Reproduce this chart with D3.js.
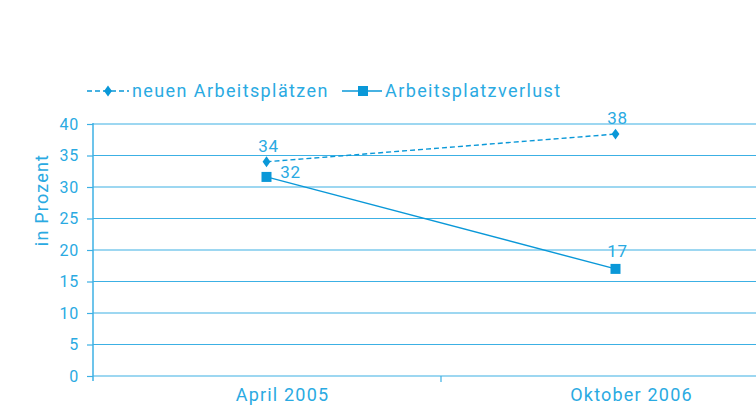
<!DOCTYPE html>
<html><head><meta charset="utf-8">
<script src="https://cdn.jsdelivr.net/npm/d3@7"></script>
<style>body{margin:0;background:#fff}svg{display:block}text{font-family:Roboto,"DejaVu Sans",sans-serif}</style>
</head><body><svg id="c" width="756" height="407"></svg>
<script>
const categories = ["April 2005", "Oktober 2006"];
const neueArbeitsplaetze = [34, 38.4];
const arbeitsplatzverlust = [31.6, 17];
const labelsNeue = ["34", "38"];
const labelsVerlust = ["32", "17"];
const yTicks = [0,5,10,15,20,25,30,35,40];
const seriesNames = ["neuen Arbeitsplätzen", "Arbeitsplatzverlust"];

const lineCol = "#0a98d8", textCol = "#2aaae2", gridCol = "#3cb0e4";
const svg = d3.select("#c");
const x = d3.scaleBand().domain(categories).range([92, 790]);
const y = d3.scaleLinear().domain([0, 40]).range([376, 124]);

// grid
svg.append("g").selectAll("line").data(yTicks).join("line")
  .attr("x1", 93).attr("x2", 756).attr("y1", d => y(d)).attr("y2", d => y(d))
  .attr("stroke", gridCol).attr("stroke-width", 1.2);

// y axis
const ya = svg.append("g").attr("transform", "translate(93,0)")
  .call(d3.axisLeft(y).tickValues(yTicks).tickSize(6).tickPadding(8));
ya.select(".domain").remove();
ya.selectAll("line").attr("stroke", gridCol).attr("stroke-width", 1.2);
ya.selectAll("text").attr("fill", textCol).style("font-size", "16px").style("letter-spacing", "0.8px");
svg.append("line").attr("x1", 93).attr("x2", 93).attr("y1", 123).attr("y2", 381)
  .attr("stroke", gridCol).attr("stroke-width", 1.5);

// x axis
const xa = svg.append("g").attr("transform", "translate(0,376)")
  .call(d3.axisBottom(x).tickSize(0).tickPadding(12));
xa.select(".domain").remove();
xa.selectAll("text").attr("fill", textCol).attr("dx", 16)
  .style("font-size", "18px").style("letter-spacing", "1.2px");
svg.append("line").attr("x1", x(categories[1])).attr("x2", x(categories[1]))
  .attr("y1", 376).attr("y2", 382).attr("stroke", gridCol).attr("stroke-width", 1.2);

svg.append("text").attr("transform", "translate(48,200) rotate(-90)")
  .attr("text-anchor", "middle").attr("fill", textCol)
  .style("font-size", "18px").style("letter-spacing", "1.2px").text("in Prozent");

const cx = (d, i) => x(categories[i]) + x.bandwidth() / 2;
const line = d3.line().x((d, i) => cx(d, i)).y(d => y(d));

// series 1 dashed with diamonds
svg.append("path").datum(neueArbeitsplaetze).attr("d", line).attr("fill", "none")
  .attr("stroke", lineCol).attr("stroke-width", 1.4).attr("stroke-dasharray", "5,3");
svg.append("g").selectAll("path").data(neueArbeitsplaetze).join("path")
  .attr("d", d3.symbol(d3.symbolDiamond, 34)())
  .attr("transform", (d, i) => `translate(${cx(d, i)},${y(d)}) scale(1.25,1)`).attr("fill", lineCol);

// series 2 solid with squares
svg.append("path").datum(arbeitsplatzverlust).attr("d", line).attr("fill", "none")
  .attr("stroke", lineCol).attr("stroke-width", 1.4);
svg.append("g").selectAll("rect").data(arbeitsplatzverlust).join("rect")
  .attr("x", (d, i) => cx(d, i) - 5).attr("y", d => y(d) - 5).attr("width", 10).attr("height", 10)
  .attr("fill", lineCol);

// data labels
svg.append("g").selectAll("text").data(neueArbeitsplaetze).join("text")
  .attr("x", (d, i) => cx(d, i) + 2).attr("y", d => y(d) - 10).attr("text-anchor", "middle")
  .attr("fill", textCol).style("font-size", "17px").style("letter-spacing", "0.8px").text((d, i) => labelsNeue[i]);
svg.append("g").selectAll("text").data(arbeitsplatzverlust).join("text")
  .attr("x", (d, i) => i === 0 ? cx(d, i) + 24 : cx(d, i) + 2)
  .attr("y", (d, i) => i === 0 ? y(d) + 1 : y(d) - 12).attr("text-anchor", "middle")
  .attr("fill", textCol).style("font-size", "17px").style("letter-spacing", "0.8px").text((d, i) => labelsVerlust[i]);

// legend
const lg = svg.append("g");
lg.append("line").attr("x1", 87).attr("x2", 129).attr("y1", 91).attr("y2", 91)
  .attr("stroke", lineCol).attr("stroke-width", 1.4).attr("stroke-dasharray", "5,3");
lg.append("path").attr("d", d3.symbol(d3.symbolDiamond, 34)()).attr("transform", "translate(108,91) scale(1.25,1)").attr("fill", lineCol);
lg.append("text").attr("x", 132).attr("y", 97).attr("fill", textCol)
  .style("font-size", "18px").style("letter-spacing", "1.4px").text(seriesNames[0]);
lg.append("line").attr("x1", 342).attr("x2", 382).attr("y1", 91).attr("y2", 91)
  .attr("stroke", lineCol).attr("stroke-width", 1.4);
lg.append("rect").attr("x", 358).attr("y", 86).attr("width", 10).attr("height", 10).attr("fill", lineCol);
lg.append("text").attr("x", 385).attr("y", 97).attr("fill", textCol)
  .style("font-size", "18px").style("letter-spacing", "1.4px").text(seriesNames[1]);
</script></body></html>
